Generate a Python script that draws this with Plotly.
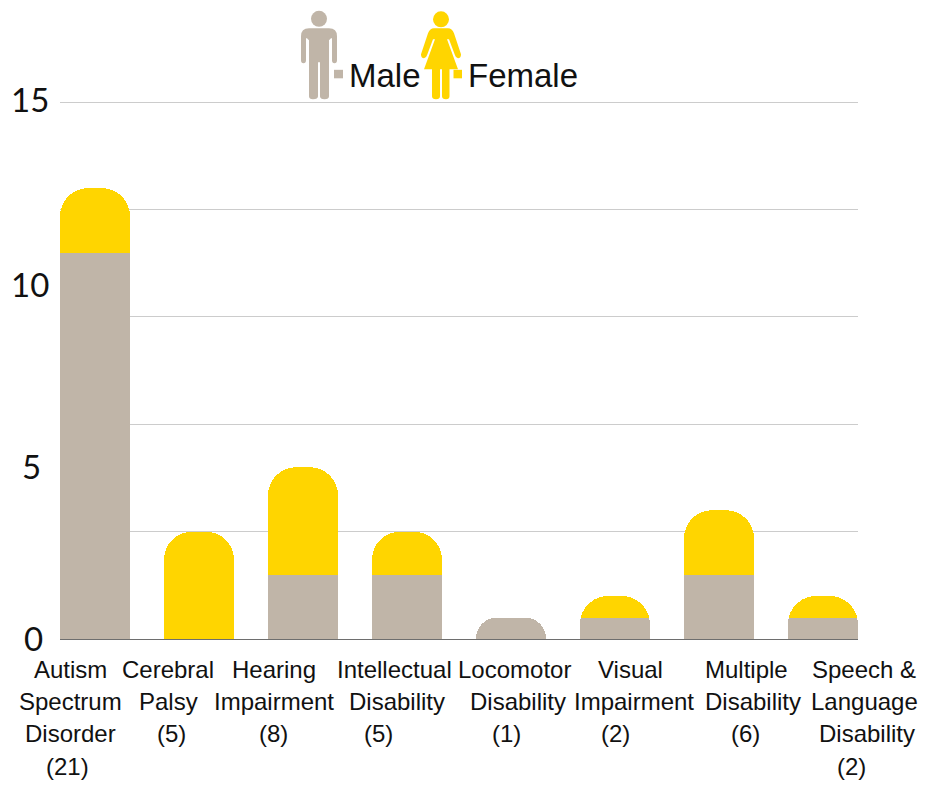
"""Stacked rounded bars: students by disability category and gender."""

import plotly.graph_objects as go

# Data
MALE_COUNTS = [18, 0, 3, 3, 1, 1, 3, 1]
FEMALE_COUNTS = [3, 5, 5, 2, 0, 1, 3, 1]
CATEGORIES = ["Autism", "Cerebral", "Hearing", "Intellectual",
              "Locomotor", "Visual", "Multiple", "Speech"]
LABEL_LINES = [
    ["Autism", "Spectrum", "Disorder", "(21)"],
    ["Cerebral", "Palsy", "(5)"],
    ["Hearing", "Impairment", "(8)"],
    ["Intellectual", "Disability", "(5)"],
    ["Locomotor", "Disability", "(1)"],
    ["Visual", "Impairment", "(2)"],
    ["Multiple", "Disability", "(6)"],
    ["Speech &", "Language", "Disability", "(2)"],
]
VALUE_LABELS = ["15", "10", "5", "0"]

# Layout: the labels in the source are hand placed, each line on its own
LABEL_CENTERS = [
    [70, 70.5, 70.5, 67],
    [168, 168, 171.5],
    [274, 274, 273.6],
    [394, 397, 378],
    [514.5, 518, 506],
    [630.5, 634, 615.5],
    [746, 752.7, 745.5],
    [864, 864.5, 867, 851.5],
]
LINE_CENTERS = [669.8, 701.8, 733.8, 766.8]
VALUE_LABEL_POS = [(29.5, 99), (29.5, 284), (31, 465.5), (33.5, 637.5)]

AXIS_TOP = 25.2  # a little over 25, plotly drops gridlines right at the plot edge
WIDTH, HEIGHT = 930, 787
LEFT, RIGHT, TOP, BOTTOM = 60, 858, 97.7, 639

MALE_COLOR = "#C0B5A8"
FEMALE_COLOR = "#FFD500"
TEXT_COLOR = "#111111"
FONT = "Liberation Sans"
VALUE_FONT = "Lato"


def px(x):
    return (x - LEFT) / (RIGHT - LEFT)


def py(y):
    return (BOTTOM - y) / (BOTTOM - TOP)


def path_shape(commands, color):
    """Build a filled paper shape from (letter, x, y, ...) tuples in page pixels."""
    parts = []
    for cmd in commands:
        if cmd[0] == "Z":
            parts.append("Z")
            continue
        nums = cmd[1:]
        coords = [f"{px(nums[i]):.5f},{py(nums[i + 1]):.5f}" for i in range(0, len(nums), 2)]
        parts.append(cmd[0] + " ".join(coords))
    return dict(type="path", xref="paper", yref="paper", path=" ".join(parts),
                fillcolor=color, line=dict(width=0), layer="above")


def circle_shape(cx, cy, r, color):
    return dict(type="circle", xref="paper", yref="paper",
                x0=px(cx - r), x1=px(cx + r), y0=py(cy + r), y1=py(cy - r),
                fillcolor=color, line=dict(width=0), layer="above")


def rect_shape(x0, y0, x1, y1, color):
    return dict(type="rect", xref="paper", yref="paper",
                x0=px(x0), x1=px(x1), y0=py(y1), y1=py(y0),
                fillcolor=color, line=dict(width=0), layer="above")


male_body = [
    ("M", 301, 36), ("Q", 301, 28, 309, 28), ("L", 329, 28), ("Q", 337, 28, 337, 36),
    ("L", 337, 60), ("Q", 337, 63, 334.5, 63), ("Q", 332, 63, 332, 60),
    ("L", 332, 38), ("L", 331, 38), ("L", 329, 40),
    ("L", 329, 96), ("Q", 329, 99, 324.5, 99), ("Q", 320, 99, 320, 96),
    ("L", 320, 62), ("L", 318, 62),
    ("L", 318, 96), ("Q", 318, 99, 313, 99), ("Q", 309, 99, 309, 96),
    ("L", 309, 40), ("L", 307, 38), ("L", 306, 38),
    ("L", 306, 60), ("Q", 306, 63, 303.5, 63), ("Q", 301, 63, 301, 60), ("Z",),
]
female_body = [
    ("M", 434, 28), ("L", 448, 28), ("Q", 452, 28, 454, 33),
    ("L", 461, 54), ("Q", 461, 58, 458, 58), ("Q", 456, 58, 455, 55),
    ("L", 449, 39), ("L", 447, 39), ("L", 458, 69),
    ("L", 449.5, 69), ("L", 449.5, 96), ("Q", 449.5, 99, 446, 99), ("Q", 442, 99, 442, 96),
    ("L", 442, 69), ("L", 440, 69),
    ("L", 440, 96), ("Q", 440, 99, 436, 99), ("Q", 432, 99, 432, 96),
    ("L", 432, 69), ("L", 424, 69),
    ("L", 435, 39), ("L", 433, 39), ("L", 427, 55),
    ("Q", 426, 58, 424, 58), ("Q", 421, 58, 421, 54), ("L", 428, 33),
    ("Q", 430, 28, 434, 28), ("Z",),
]
icons = [
    circle_shape(319, 18.5, 8, MALE_COLOR),
    path_shape(male_body, MALE_COLOR),
    rect_shape(334, 69.5, 343, 78, MALE_COLOR),
    circle_shape(441, 19, 8, FEMALE_COLOR),
    path_shape(female_body, FEMALE_COLOR),
    rect_shape(453.5, 69.5, 462, 78, FEMALE_COLOR),
]


def page_text(text, x, y, size, family=FONT):
    return dict(text=text, xref="paper", yref="paper", x=px(x), y=py(y),
                xanchor="center", yanchor="middle", showarrow=False,
                font=dict(family=family, size=size, color=TEXT_COLOR))


annotations = []
for lines, centers in zip(LABEL_LINES, LABEL_CENTERS):
    for line, cx, cy in zip(lines, centers, LINE_CENTERS):
        annotations.append(page_text(line, cx, cy, 24))
for label, (x, y) in zip(VALUE_LABELS, VALUE_LABEL_POS):
    annotations.append(page_text(label, x, y, 33, VALUE_FONT))
annotations.append(page_text("Male", 385, 75, 33))
annotations.append(page_text("Female", 523.2, 75, 33))

fig = go.Figure()
fig.add_trace(go.Bar(x=CATEGORIES, y=MALE_COUNTS, name="Male",
                     marker=dict(color=MALE_COLOR, line=dict(width=0))))
fig.add_trace(go.Bar(x=CATEGORIES, y=FEMALE_COUNTS, name="Female",
                     marker=dict(color=FEMALE_COLOR, line=dict(width=0))))

fig.update_layout(
    width=WIDTH,
    height=HEIGHT,
    margin=dict(l=LEFT, r=WIDTH - RIGHT, t=TOP, b=HEIGHT - BOTTOM, pad=0),
    barmode="stack",
    bargap=0.327,
    barcornerradius=28,
    showlegend=False,
    plot_bgcolor="white",
    paper_bgcolor="white",
    font=dict(family=FONT, color=TEXT_COLOR),
    xaxis=dict(range=[-0.3365, 7.3365], showticklabels=False, ticks="", showgrid=False,
               showline=True, linecolor="#6E6E6E", linewidth=1, zeroline=False),
    yaxis=dict(range=[0, AXIS_TOP], dtick=5, showticklabels=False, ticks="", showgrid=True,
               gridcolor="#CCCCCC", gridwidth=1, zeroline=False, showline=False),
    shapes=icons,
    annotations=annotations,
)

fig.write_html("out.html", config=dict(displayModeBar=False),
               post_script="document.body.style.margin = '0';")
